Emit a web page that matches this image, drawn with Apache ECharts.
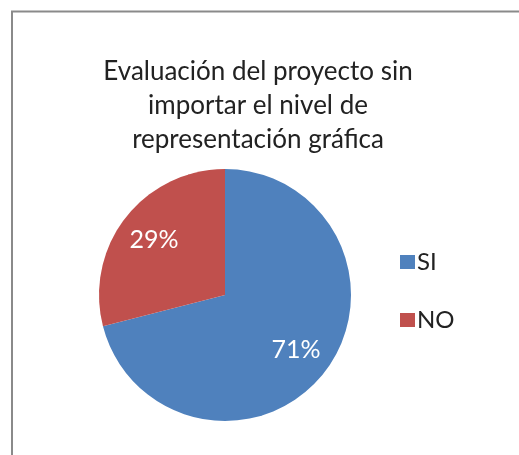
<!DOCTYPE html>
<html>
<head>
<meta charset="utf-8">
<script src="https://cdn.jsdelivr.net/npm/echarts@6/dist/echarts.min.js"></script>
<style>
  html, body { margin: 0; padding: 0; background: #fff; }
  #main { width: 519px; height: 455px; }
</style>
</head>
<body>
<div id="main"></div>
<script>
// datos del grafico
var categorias = ['SI', 'NO'];
var valores = [71, 29];
var colores = ['#4F81BD', '#C0504D'];
var titulo = 'Evaluación del proyecto sin\nimportar el nivel de\nrepresentación gráfica';

var centro = [225, 295];
var radio = 126;

var myChart = echarts.init(document.getElementById('main'));

var datos = [];
for (var i = 0; i < categorias.length; i++) {
	datos.push({ name: categorias[i], value: valores[i] });
}

var option = {
	animation: false,
	color: colores,
	textStyle: { fontFamily: 'Lato' },
	graphic: [{
		type: 'rect',
		shape: { x: 12, y: 11.5, width: 540, height: 480 },
		style: { fill: 'none', stroke: '#8a8a8a', lineWidth: 2 },
		silent: true
	}],
	title: {
		text: titulo,
		left: 253,
		top: 50,
		textAlign: 'center',
		textStyle: {
			fontFamily: 'Lato',
			fontSize: 26,
			fontWeight: 'normal',
			lineHeight: 34,
			color: '#222'
		}
	},
	legend: {
		orient: 'vertical',
		left: 395,
		top: 245,
		itemWidth: 15,
		itemHeight: 14,
		itemGap: 34,
		icon: 'rect',
		data: categorias,
		textStyle: {
			fontFamily: 'Lato',
			fontSize: 24,
			lineHeight: 24,
			color: '#222',
			padding: [0, 0, 0, -3]
		}
	},
	series: [{
		name: 'Evaluación',
		type: 'pie',
		center: centro,
		radius: radio,
		startAngle: 90,
		clockwise: true,
		data: datos,
		itemStyle: { borderWidth: 0 },
		label: {
			show: true,
			position: 'inside',
			formatter: function(p) { return Math.round(p.percent) + '%'; },
			color: '#fff',
			fontFamily: 'Lato',
			fontSize: 25
		},
		labelLayout: function(p) {
			// mover las etiquetas hacia afuera (tipo Excel)
			var r = p.labelRect;
			var lx = r.x + r.width / 2;
			var ly = r.y + r.height / 2;
			var k = 1.36;
			return { x: centro[0] + (lx - centro[0]) * k, y: centro[1] + (ly - centro[1]) * k };
		},
		emphasis: { disabled: true }
	}]
};
myChart.setOption(option);
</script>
</body>
</html>
